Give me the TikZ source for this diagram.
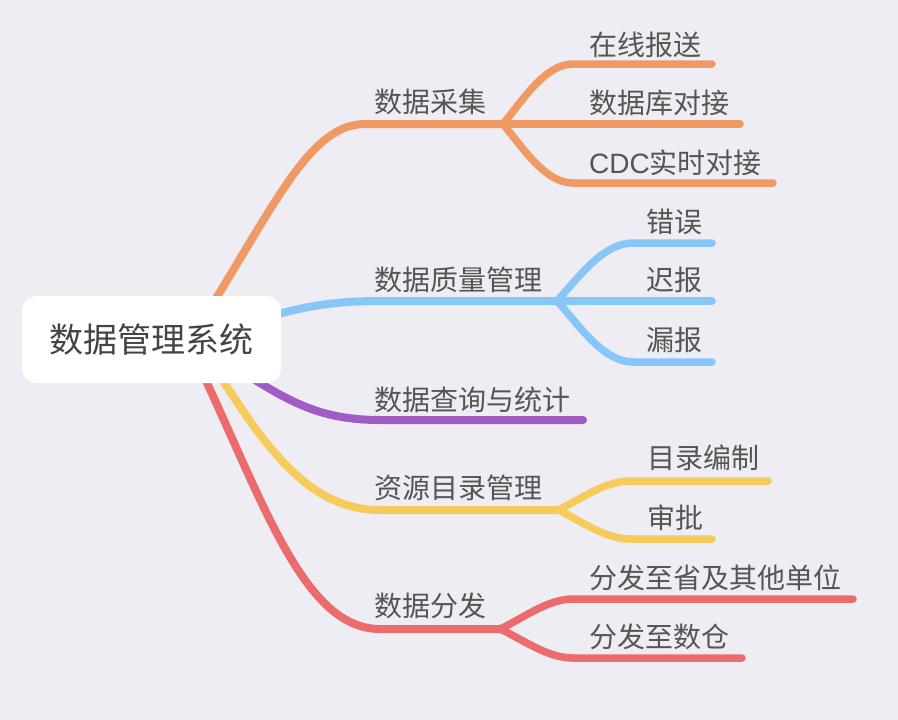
\documentclass[tikz,border=0pt]{standalone}
\usepackage{fontspec}
\usepackage{tikz}
\usetikzlibrary{positioning}
\newfontfamily\cjk{Noto Sans CJK SC}
\newfontfamily\latn{Liberation Sans}
\definecolor{bgcol}{HTML}{EEEDF3}
\definecolor{txtgray}{HTML}{555555}
\definecolor{rootgray}{HTML}{444444}
\definecolor{caijiC}{HTML}{EF9A64}
\definecolor{zhiliangC}{HTML}{88C6F7}
\definecolor{chaxunC}{HTML}{A15BC4}
\definecolor{ziyuanC}{HTML}{F5CB5C}
\definecolor{fenfaC}{HTML}{EC6B6D}

\begin{document}
\begin{tikzpicture}[x=1pt,y=-1pt,
   branch/.style={line width=8pt,line cap=round},
   twig/.style={line width=7.5pt,line cap=round},
   topic/.style={font={\cjk\fontsize{28}{30}\selectfont},text=txtgray,inner sep=0pt,anchor=base west},
   rootbox/.style={fill=white,rounded corners=15pt,minimum width=259pt,minimum height=87pt,
      font={\cjk\fontsize{34}{36}\selectfont},text=rootgray,inner sep=0pt}]
   \fill[bgcol] (0,0) rectangle (898,720);
   \useasboundingbox (0,0) rectangle (898,720);
   % start points, hidden under the root box
   \coordinate (s_caiji) at (205,316);
   \coordinate (s_zhiliang) at (230,328);
   \coordinate (s_chaxun) at (215,355);
   \coordinate (s_ziyuan) at (200,345);
   \coordinate (s_fenfa) at (189,345);
   % main topics
   \coordinate (caiji) at (365,124);   \coordinate (caiji_j) at (503,124);
   \coordinate (zhiliang) at (380,301); \coordinate (zhiliang_j) at (557,301);
   \coordinate (chaxun) at (380,420);  \coordinate (chaxun_e) at (583,420);
   \coordinate (ziyuan) at (380,510);  \coordinate (ziyuan_j) at (558,510);
   \coordinate (fenfa) at (380,629);   \coordinate (fenfa_j) at (500,629);
   \draw[branch,caijiC] (s_caiji) .. controls (275,205) and (310,124) .. (caiji) -- (caiji_j);
   \draw[branch,zhiliangC] (s_zhiliang) .. controls (290,310) and (320,301) .. (zhiliang) -- (zhiliang_j);
   \draw[branch,chaxunC] (s_chaxun) .. controls (280,395) and (310,420) .. (chaxun) -- (chaxun_e);
   \draw[branch,ziyuanC] (s_ziyuan) .. controls (255,430) and (300,510) .. (ziyuan) -- (ziyuan_j);
   \draw[branch,fenfaC] (s_fenfa) .. controls (260,490) and (300,629) .. (fenfa) -- (fenfa_j);
   % sub topics
   \coordinate (zaixian) at (573,64);   \coordinate (zaixian_e) at (712,64);
   \coordinate (shujuku_e) at (740,124);
   \coordinate (cdc) at (573,183);      \coordinate (cdc_e) at (773,183);
   \coordinate (cuowu) at (633,243);    \coordinate (cuowu_e) at (712,243);
   \coordinate (chibao_e) at (712,301);
   \coordinate (loubao) at (633,362);   \coordinate (loubao_e) at (712,362);
   \coordinate (mulu) at (630,481);     \coordinate (mulu_e) at (768,481);
   \coordinate (shenpi) at (630,539);   \coordinate (shenpi_e) at (712,539);
   \coordinate (sheng) at (573,599);    \coordinate (sheng_e) at (853,599);
   \coordinate (shucang) at (573,658);  \coordinate (shucang_e) at (742,658);
   \draw[twig,caijiC] (caiji_j) .. controls +(20,-24) and +(-28,0) .. (zaixian) -- (zaixian_e);
   \draw[twig,caijiC] (caiji_j) -- (shujuku_e);
   \draw[twig,caijiC] (caiji_j) .. controls +(20,24) and +(-28,0) .. (cdc) -- (cdc_e);
   \draw[twig,zhiliangC] (zhiliang_j) .. controls +(22,-24) and +(-30,0) .. (cuowu) -- (cuowu_e);
   \draw[twig,zhiliangC] (zhiliang_j) -- (chibao_e);
   \draw[twig,zhiliangC] (zhiliang_j) .. controls +(22,24) and +(-30,0) .. (loubao) -- (loubao_e);
   \draw[twig,ziyuanC] (ziyuan_j) .. controls +(22,-10) and +(-26,0) .. (mulu) -- (mulu_e);
   \draw[twig,ziyuanC] (ziyuan_j) .. controls +(22,10) and +(-26,0) .. (shenpi) -- (shenpi_e);
   \draw[twig,fenfaC] (fenfa_j) .. controls +(22,-10) and +(-26,0) .. (sheng) -- (sheng_e);
   \draw[twig,fenfaC] (fenfa_j) .. controls +(22,10) and +(-26,0) .. (shucang) -- (shucang_e);
   % labels
   \node[topic] (caiji_t) at (374,112.5) {数据采集};
   \node[topic] (zaixian_t) at (589,55.5) {在线报送};
   \node[topic] (shujuku_t) at (589,113.5) {数据库对接};
   \node[topic] (cdc_t) at (589,173.5) {{\latn CDC}实时对接};
   \node[topic] (zhiliang_t) at (374,290.5) {数据质量管理};
   \node[topic] (cuowu_t) at (646,232.5) {错误};
   \node[topic] (chibao_t) at (646,290.5) {迟报};
   \node[topic] (loubao_t) at (646,350.5) {漏报};
   \node[topic] (chaxun_t) at (374,410.5) {数据查询与统计};
   \node[topic] (ziyuan_t) at (374,498.5) {资源目录管理};
   \node[topic] (mulu_t) at (647,468.5) {目录编制};
   \node[topic] (shenpi_t) at (647,528.5) {审批};
   \node[topic] (fenfa_t) at (374,616.5) {数据分发};
   \node[topic] (sheng_t) at (589,588.5) {分发至省及其他单位};
   \node[topic] (shucang_t) at (589,647.5) {分发至数仓};
   % root
   \node[rootbox] (root) at (151.5,339.5) {数据管理系统};
\end{tikzpicture}
\end{document}
